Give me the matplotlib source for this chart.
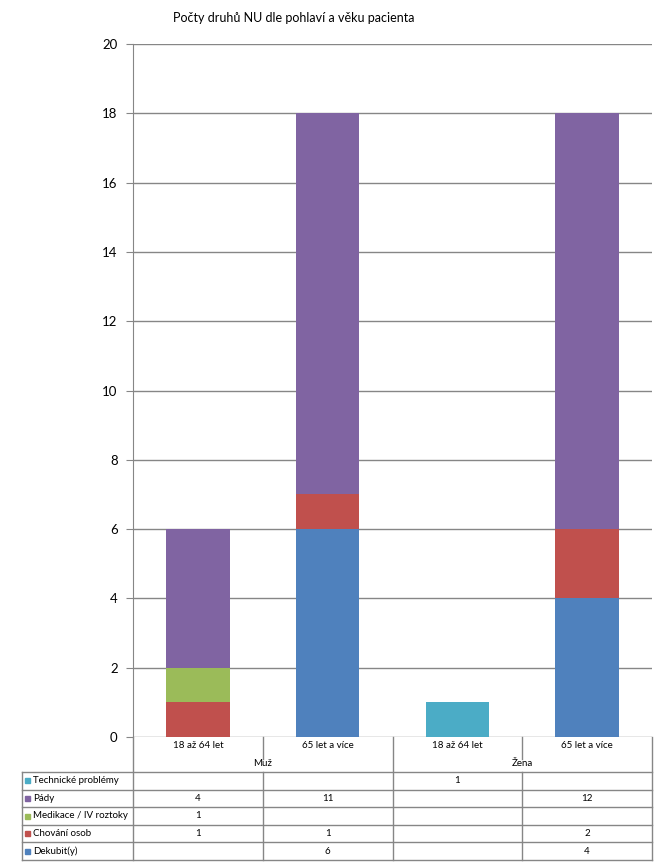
import matplotlib
matplotlib.use("Agg")
import matplotlib.pyplot as plt
from matplotlib.transforms import blended_transform_factory
import numpy as np

plt.rcParams['font.family'] = ['Lato', 'DejaVu Sans']

# ---- data ----
age_groups = ["18 až 64 let", "65 let a více", "18 až 64 let", "65 let a více"]
genders = ["Muž", "Žena"]
series_names = ["Dekubit(y)", "Chování osob", "Medikace / IV roztoky", "Pády", "Technické problémy"]
dekubit = [0, 6, 0, 4]
chovani = [1, 1, 0, 2]
medikace = [1, 0, 0, 0]
pady = [4, 11, 0, 12]
technicke = [0, 0, 1, 0]
colors = ["#4F81BD", "#C0504D", "#9BBB59", "#8064A2", "#4BACC6"]
title = "Počty druhů NU dle pohlaví a věku pacienta"
yticks = [0, 2, 4, 6, 8, 10, 12, 14, 16, 18, 20]

series = [dekubit, chovani, medikace, pady, technicke]

W, H = 667, 866
fig = plt.figure(figsize=(W / 100, H / 100), dpi=100)
fig.patch.set_facecolor("white")

ax_l, ax_r, ax_t, ax_b = 133, 652, 44, 737
ax = fig.add_axes([ax_l / W, 1 - ax_b / H, (ax_r - ax_l) / W, (ax_b - ax_t) / H])
grid_c = "#868686"

x = np.arange(len(age_groups))
bottom = np.zeros(len(age_groups))
for vals, c in zip(series, colors):
    v = np.array(vals, dtype=float)
    ax.bar(x, v, bottom=bottom, width=0.49, color=c, zorder=3)
    bottom += v

ax.set_xlim(-0.5, len(age_groups) - 0.5)
ax.set_ylim(0, 20)
ax.set_yticks(yticks)
ax.set_yticklabels([str(t) for t in yticks], fontsize=9.5)
ax.yaxis.grid(True, color=grid_c, linewidth=1.0, zorder=0)
ax.set_xticks([])
for s in ["top", "right", "bottom"]:
    ax.spines[s].set_visible(False)
ax.spines["left"].set_color(grid_c)
ax.tick_params(axis="y", length=5, color=grid_c, pad=6)

fig.text(294 / W, 1 - 18 / H, title, ha="center", va="center", fontsize=9)

# ---- data table below the plot (pixel overlay) ----
ov = fig.add_axes([0, 0, 1, 1], facecolor="none")
ov.set_xlim(0, W)
ov.set_ylim(H, 0)
ov.axis("off")
bt = blended_transform_factory(ax.transData, ov.transData)

n = len(age_groups)
bounds = [i - 0.5 for i in range(n + 1)]
y_hdr_top = 737
y_age_line_end = 759
y_rows_top = 772
row_h = 17.6
n_rows = len(series_names)
y_bot = y_rows_top + row_h * n_rows
tab_left = 22
lw = 1.0

# header vertical lines
for i, b in enumerate(bounds):
    if i in (0, 2, n):
        ov.plot([b, b], [y_hdr_top, y_bot], color=grid_c, lw=lw, transform=bt, clip_on=False)
    else:
        ov.plot([b, b], [y_hdr_top, y_age_line_end], color=grid_c, lw=lw, transform=bt, clip_on=False)
        ov.plot([b, b], [y_rows_top, y_bot], color=grid_c, lw=lw, transform=bt, clip_on=False)
ov.plot([tab_left, tab_left], [y_rows_top, y_bot], color=grid_c, lw=lw, clip_on=False)
# horizontal lines
for r in range(n_rows + 1):
    yy = y_rows_top + r * row_h
    ov.plot([tab_left, ax_r], [yy, yy], color=grid_c, lw=lw, clip_on=False)

# header text
for i, lab in enumerate(age_groups):
    ov.text(i, 746, lab, transform=bt, ha="center", va="center", fontsize=7)
for g, lab in enumerate(genders):
    ov.text(2 * g + 0.5, 763, lab, transform=bt, ha="center", va="center", fontsize=7)

# rows: top-to-bottom reversed series order
row_order = list(range(n_rows))[::-1]
for r, si in enumerate(row_order):
    yc = y_rows_top + (r + 0.5) * row_h
    ov.add_patch(plt.Rectangle((25, yc - 2.5), 5, 5, color=colors[si], clip_on=False))
    ov.text(33, yc, series_names[si], ha="left", va="center", fontsize=7)
    for i, v in enumerate(series[si]):
        if v:
            ov.text(i, yc, str(v), transform=bt, ha="center", va="center", fontsize=7)

fig.savefig("out.png", dpi=100)
